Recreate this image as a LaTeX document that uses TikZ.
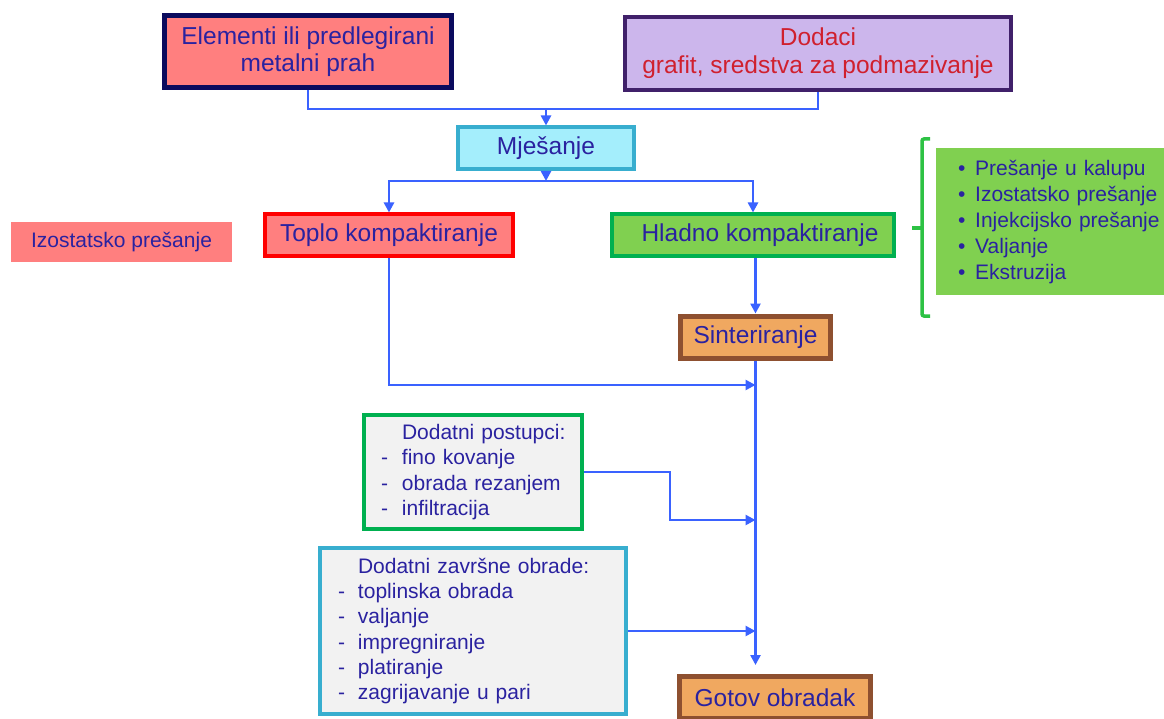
\documentclass[tikz,border=0pt]{standalone}
\usepackage{fontspec}
\setmainfont{Liberation Sans}
\usetikzlibrary{arrows.meta}
\definecolor{navy}{HTML}{0B0B5E}
\definecolor{salmon}{HTML}{FF7F7F}
\definecolor{purpleb}{HTML}{40206A}
\definecolor{lav}{HTML}{CCB6EC}
\definecolor{txtblue}{HTML}{2A22A0}
\definecolor{txtred}{HTML}{D0202E}
\definecolor{cyanb}{HTML}{38AECF}
\definecolor{cyanf}{HTML}{A4EEFC}
\definecolor{greenb}{HTML}{00B050}
\definecolor{greenf}{HTML}{80D050}
\definecolor{brack}{HTML}{2DC244}
\definecolor{brownb}{HTML}{8E5030}
\definecolor{orangef}{HTML}{F0A860}
\definecolor{panelgray}{HTML}{F2F2F2}
\definecolor{arrblue}{HTML}{3A62FF}
\tikzset{
  box/.style={draw, rectangle, inner sep=0pt, align=center, text=txtblue,
    font=\fontsize{24.5}{27.5}\selectfont},
  arr/.style={draw=arrblue, line width=2.8pt, -{Triangle[length=10pt,width=10pt]}},
  ln/.style={draw=arrblue, line width=2.8pt},
  panel/.style={draw, rectangle, line width=4pt, fill=panelgray, inner ysep=0pt,
    text=txtblue, align=left, font=\fontsize{21}{25.3}\selectfont},
}
\begin{document}
\begin{tikzpicture}[x=1pt,y=-1pt]
\useasboundingbox[fill=white] (0,0) rectangle (1164,719);

% top boxes
\node[box, draw=navy, line width=5pt, fill=salmon, minimum width=287pt, minimum height=72pt]
  (el) at (308,51.5) {Elementi ili predlegirani\\metalni prah};
\node[box, draw=purpleb, line width=4pt, fill=lav, text=txtred, minimum width=386pt, minimum height=73pt,
  font=\fontsize{24.5}{28}\selectfont]
  (dod) at (818,53.5) {Dodaci\\grafit, sredstva za podmazivanje};

\node[box, draw=cyanb, line width=4pt, fill=cyanf, minimum width=176pt, minimum height=42pt]
  (mix) at (546,148.5) {Mješanje};

\node[box, draw=none, fill=salmon, minimum width=221pt, minimum height=40pt,
  font=\fontsize{21}{25}\selectfont]
  (izo) at (121.5,242.5) {Izostatsko prešanje};
\node[box, draw=red, line width=4pt, fill=salmon, minimum width=248pt, minimum height=42pt]
  (toplo) at (389,235.5) {Toplo kompaktiranje};
\node[box, draw=greenb, line width=4pt, fill=greenf, minimum width=282pt, minimum height=42pt]
  (hladno) at (753,235.5) {\hspace*{14pt}Hladno kompaktiranje};

\node[anchor=north west, fill=greenf, inner sep=0pt, text width=228pt, minimum height=147pt,
  align=left, text=txtblue, font=\fontsize{21}{26}\selectfont]
  (list) at (936,148) {%
  \hspace*{22pt}\makebox[17pt][l]{•}Prešanje u kalupu\\
  \hspace*{22pt}\makebox[17pt][l]{•}Izostatsko prešanje\\
  \hspace*{22pt}\makebox[17pt][l]{•}Injekcijsko prešanje\\
  \hspace*{22pt}\makebox[17pt][l]{•}Valjanje\\
  \hspace*{22pt}\makebox[17pt][l]{•}Ekstruzija};

% bracket
\draw[brack, line width=3.5pt, rounded corners=2pt] (930,139) -- (922,139) -- (922,316) -- (930,316);
\draw[brack, line width=3.5pt] (922,228) -- (912,228);

\node[box, draw=brownb, line width=5pt, fill=orangef, minimum width=150pt, minimum height=42pt]
  (sint) at (755.5,337) {Sinteriranje};

\node[panel, draw=greenb, inner xsep=7pt, text width=204pt, minimum height=114pt]
  (post) at (473,472) {%
  \hspace*{10pt}\makebox[21pt][l]{}Dodatni postupci:\\
  \hspace*{10pt}\makebox[21pt][l]{-}fino kovanje\\
  \hspace*{10pt}\makebox[21pt][l]{-}obrada rezanjem\\
  \hspace*{10pt}\makebox[21pt][l]{-}infiltracija};

\node[panel, draw=cyanb, inner xsep=8pt, text width=290pt, minimum height=166pt]
  (zav) at (473,631) {%
  \hspace*{10pt}\makebox[20pt][l]{}Dodatni završne obrade:\\
  \hspace*{10pt}\makebox[20pt][l]{-}toplinska obrada\\
  \hspace*{10pt}\makebox[20pt][l]{-}valjanje\\
  \hspace*{10pt}\makebox[20pt][l]{-}impregniranje\\
  \hspace*{10pt}\makebox[20pt][l]{-}platiranje\\
  \hspace*{10pt}\makebox[20pt][l]{-}zagrijavanje u pari};

\node[box, draw=brownb, line width=5pt, fill=orangef, minimum width=191pt, minimum height=42pt]
  (gotov) at (775,697.5) {Gotov obradak};

% junction coordinates
\coordinate (j1) at (546,109);
\coordinate (j2) at (546,181);
\coordinate (m1) at (755.5,385);
\coordinate (b2) at (670,520);
\coordinate (m2) at (755.5,520);
\coordinate (m3) at (755.5,631);

% connectors
\draw[ln] (el.south) |- (j1) -| (dod.south);
\draw[arr] (j1) -- (mix.north);
\draw[arr] (mix.south) -- (j2);
\draw[arr] (j2) -| (toplo.north);
\draw[arr] (j2) -| (hladno.north);
\draw[arr] (hladno.south -| sint.north) -- (sint.north);
\draw[arr, shorten >=9pt] (sint.south) -- (sint.south |- gotov.north);
\draw[arr] (toplo.south) |- (m1);
\draw[arr] (post.east) -| (b2) -- (m2);
\draw[arr] (zav.east) -- (m3);
\end{tikzpicture}
\end{document}
